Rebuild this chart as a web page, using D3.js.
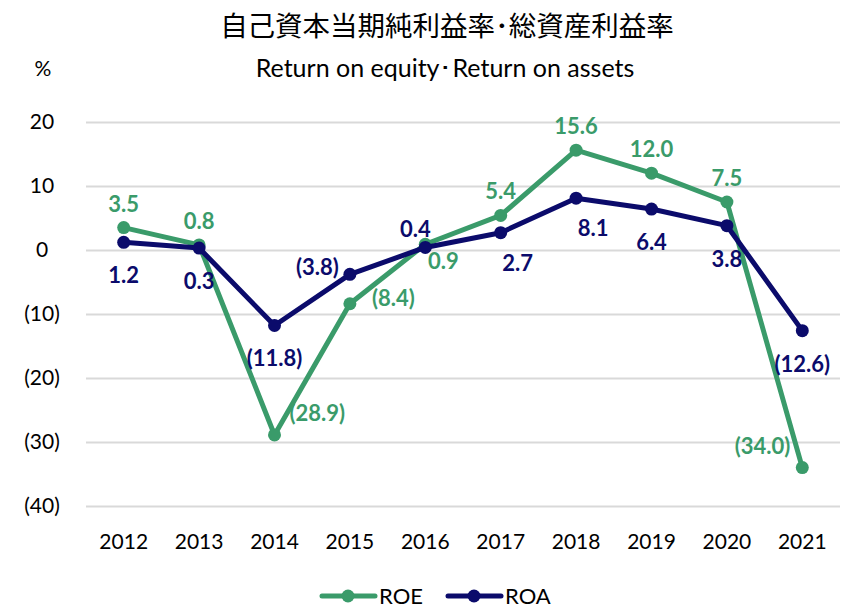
<!DOCTYPE html>
<html>
<head>
<meta charset="utf-8">
<script src="https://cdn.jsdelivr.net/npm/d3@7"></script>
<style>
  body { margin: 0; background: #fff; }
  text { font-family: Lato, "Open Sans", sans-serif; }
</style>
</head>
<body>
<svg width="845" height="608"></svg>
<script>
// chart data
var years = ["2012", "2013", "2014", "2015", "2016", "2017", "2018", "2019", "2020", "2021"];
var roe = [3.5, 0.8, -28.9, -8.4, 0.9, 5.4, 15.6, 12.0, 7.5, -34.0];
var roa = [1.2, 0.3, -11.8, -3.8, 0.4, 2.7, 8.1, 6.4, 3.8, -12.6];
var yTicks = [20, 10, 0, -10, -20, -30, -40];
// which side of its point each data label goes
var roePos = ["top", "top", "topright", "right", "lowright", "top", "top", "top", "top", "upleft"];
var roaPos = ["bottom", "bottom", "bottom", "left", "topleft", "bottomright", "bottomright", "bottom", "bottom", "bottom"];

var green = "#3a9b6a", navy = "#0b0b6b";

// label offsets: [dx, dy to label centre, anchor]
var placement = {
    top: [0, -24, "middle"],
    bottom: [0, 33, "middle"],
    left: [-11, -7, "end"],
    right: [22, -6, "start"],
    topright: [15, -22, "start"],
    upleft: [-12, -22, "end"],
    topleft: [-10, -18, "middle"],
    bottomright: [17, 30, "middle"],
    lowright: [18, 17, "middle"]
};

var svg = d3.select("svg");

var x = d3.scaleBand().domain(years).range([86, 840]);
var y = d3.scaleLinear().domain([-40, 20]).range([506, 122]);

function fmt(v) {
    return v < 0 ? "(" + d3.format(".1f")(-v) + ")" : d3.format(".1f")(v);
}

// titles
svg.append("text").attr("x", 447).attr("y", 36).attr("text-anchor", "middle")
    .style("font-family", "'Noto Sans CJK JP', sans-serif").style("font-size", "27.5px")
    .text("自己資本当期純利益率･総資産利益率");
svg.append("text").attr("x", 445).attr("y", 77).attr("text-anchor", "middle")
    .style("font-size", "25px").text("Return on equity･Return on assets");
svg.append("text").attr("x", 43).attr("y", 76).attr("text-anchor", "middle")
    .style("font-size", "21px").text("%");

// grid + y axis
var yAxis = d3.axisLeft(y).tickValues(yTicks).tickSize(-(840 - 86))
    .tickFormat(function (d) { return d < 0 ? "(" + (-d) + ")" : d; });
var gy = svg.append("g").attr("transform", "translate(86,0)").call(yAxis);
gy.select(".domain").remove();
gy.selectAll(".tick line").attr("stroke", "#d9d9d9").attr("stroke-width", 2);
gy.selectAll(".tick text").attr("x", -44).attr("text-anchor", "middle")
    .style("font-size", "21px").attr("fill", "#000");

// x axis labels
var gx = svg.append("g").attr("transform", "translate(0,506)")
    .call(d3.axisBottom(x).tickSize(0).tickPadding(28));
gx.select(".domain").remove();
gx.selectAll(".tick text").style("font-size", "21px").attr("fill", "#000");

function drawSeries(vals, col, pos) {
    var cx = function (d, i) { return x(years[i]) + x.bandwidth() / 2; };
    var line = d3.line().x(cx).y(function (d) { return y(d); });
    svg.append("path").datum(vals).attr("d", line)
        .attr("fill", "none").attr("stroke", col).attr("stroke-width", 5)
        .attr("stroke-linejoin", "round");
    svg.append("g").selectAll("circle").data(vals).enter().append("circle")
        .attr("cx", cx)
        .attr("cy", function (d) { return y(d); })
        .attr("r", 6.5).attr("fill", col);
    svg.append("g").selectAll("text").data(vals).enter().append("text")
        .attr("x", function (d, i) { return cx(d, i) + placement[pos[i]][0]; })
        .attr("y", function (d, i) { return y(d) + placement[pos[i]][1]; })
        .attr("dy", "0.36em")
        .attr("text-anchor", function (d, i) { return placement[pos[i]][2]; })
        .attr("fill", col).style("font-size", "22px").style("font-weight", "bold")
        .text(fmt);
}

drawSeries(roe, green, roePos);
drawSeries(roa, navy, roaPos);

// legend
var legend = [["ROE", green, 322], ["ROA", navy, 448]];
legend.forEach(function (l) {
    var g = svg.append("g");
    g.append("line").attr("x1", l[2]).attr("x2", l[2] + 53).attr("y1", 596).attr("y2", 596)
        .attr("stroke", l[1]).attr("stroke-width", 5).attr("stroke-linecap", "round");
    g.append("circle").attr("cx", l[2] + 26).attr("cy", 596).attr("r", 6.5).attr("fill", l[1]);
    g.append("text").attr("x", l[2] + 57).attr("y", 596).attr("dy", "0.36em")
        .style("font-size", "22px").text(l[0]);
});
</script>
</body>
</html>
